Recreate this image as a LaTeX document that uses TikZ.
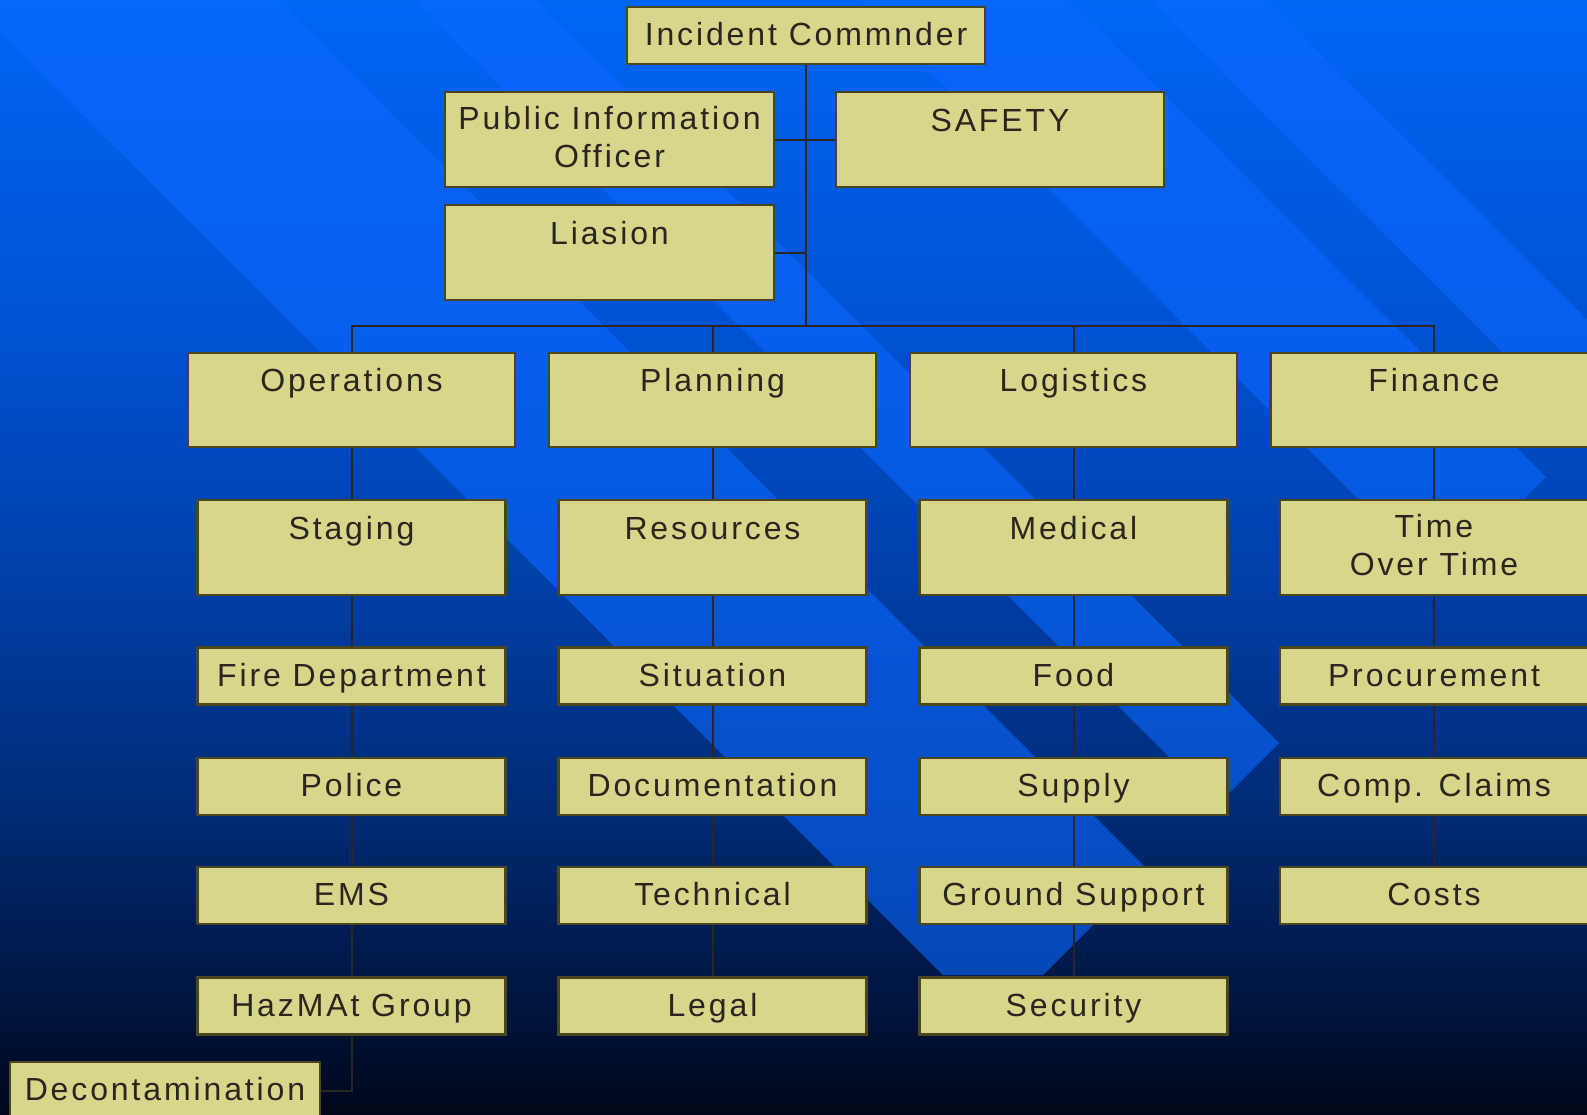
\documentclass[tikz,border=0pt]{standalone}
\usepackage{fontspec}
\setmainfont{Liberation Sans}[LetterSpace=9]
\definecolor{boxfill}{HTML}{D8D68A}
\definecolor{boxline}{HTML}{4A4620}
\definecolor{ink}{HTML}{2B2520}
\definecolor{wirecol}{HTML}{2A2622}
\definecolor{bandblue}{HTML}{0A68FF}
\definecolor{bgA}{HTML}{0066F5}
\definecolor{bgB}{HTML}{0052D2}
\definecolor{bgC}{HTML}{0042AE}
\definecolor{bgD}{HTML}{002C78}
\definecolor{bgE}{HTML}{001540}
\definecolor{bgF}{HTML}{00071A}
\pgfdeclareverticalshading{bgshade}{100bp}{color(0bp)=(bgF); color(25bp)=(bgF); color(30.1bp)=(bgE); color(39.1bp)=(bgD); color(50.3bp)=(bgC); color(60.2bp)=(bgB); color(75bp)=(bgA); color(100bp)=(bgA)}
\newcommand{\twoline}[1]{\begin{tabular}[t]{@{}c@{}}#1\end{tabular}}
\tikzset{
  box/.style={draw=boxline, line width=2.2pt, fill=boxfill, text=ink, inner sep=0pt,
    font=\fontsize{32}{38}\selectfont},
  one/.style={box, text height=23pt, text depth=3pt},
  tall/.style={box, text height=23pt, text depth=40pt},
  twolines/.style={box, text height=23pt, text depth=44pt},
  wide/.style={minimum width=327pt, minimum height=94pt},
  mid/.style={minimum width=308pt, minimum height=95pt},
  small/.style={minimum width=308pt, minimum height=57pt},
  link/.style={draw=wirecol, line width=2pt},
  band/.style={fill=bandblue, fill opacity=0.6}
}
\begin{document}
\begin{tikzpicture}[x=1pt,y=-1pt]
\useasboundingbox (0,0) rectangle (1587,1114);
\clip (0,0) rectangle (1587,1114);
% background
\shade[shading=bgshade] (0,0) rectangle (1587,1114);
\fill[band] (-32,0) -- (278,0) -- (1148,870) -- (1043,975) -- (943,975) -- cycle;
\fill[band] (414,0) -- (536,0) -- (1279,743) -- (1217,805) -- cycle;
\fill[band] (859,0) -- (1069,0) -- (1546,477) -- (1441,582) -- cycle;
\fill[band] (1150,0) -- (1267,0) -- (1720,453) -- (1603,453) -- cycle;

% top level
\node[one, minimum width=358pt, minimum height=57pt] (ic) at (806,35.5) {Incident Commnder};
\node[twolines, minimum width=329pt, minimum height=95pt] (pio) at (609.5,139.5) {\twoline{Public Information\\Officer}};
\node[tall, minimum width=328pt, minimum height=95pt] (safety) at (1000,139.5) {SAFETY};
\node[tall, minimum width=329pt, minimum height=95pt] (lia) at (609.5,252.5) {Liasion};
\coordinate (bus) at (806,326);

% sections
\node[tall, wide] (ops) at (351.5,400) {Operations};
\node[tall, wide] (pla) at (712.5,400) {Planning};
\node[tall, wide] (log) at (1073.5,400) {Logistics};
\node[tall, wide] (fin) at (1434,400) {Finance};

% row 2
\node[tall, mid] (sta) at (351.5,547.5) {Staging};
\node[tall, mid] (res) at (712.5,547.5) {Resources};
\node[tall, mid] (med) at (1073.5,547.5) {Medical};
\node[twolines, mid] (tim) at (1434,547.5) {\twoline{Time\\Over Time}};

% row 3
\node[one, small] (fire) at (351.5,676) {Fire Department};
\node[one, small] (sit) at (712.5,676) {Situation};
\node[one, small] (food) at (1073.5,676) {Food};
\node[one, small] (proc) at (1434,676) {Procurement};

% row 4
\node[one, small] (pol) at (351.5,786.5) {Police};
\node[one, small] (doc) at (712.5,786.5) {Documentation};
\node[one, small] (sup) at (1073.5,786.5) {Supply};
\node[one, small] (comp) at (1434,786.5) {Comp. Claims};

% row 5
\node[one, small] (ems) at (351.5,895.5) {EMS};
\node[one, small] (tech) at (712.5,895.5) {Technical};
\node[one, small] (gs) at (1073.5,895.5) {Ground Support};
\node[one, small] (cost) at (1434,895.5) {Costs};

% row 6
\node[one, small] (haz) at (351.5,1006) {HazMAt Group};
\node[one, small] (legal) at (712.5,1006) {Legal};
\node[one, small] (sec) at (1073.5,1006) {Security};

% row 7
\node[one, minimum width=310pt, minimum height=57pt] (dec) at (165,1090.5) {Decontamination};

% connectors
\draw[link] (ic.south) -- (bus);
\draw[link] (pio.east) -- (safety.west);
\draw[link] (lia.east) -- (lia.east -| ic.south);
\draw[link] (ops.north) |- (bus) -| (fin.north);
\draw[link] (pla.north) -- (pla.north |- bus);
\draw[link] (log.north) -- (log.north |- bus);
\foreach \a/\b in {ops/sta, sta/fire, fire/pol, pol/ems, ems/haz,
                   pla/res, res/sit, sit/doc, doc/tech, tech/legal,
                   log/med, med/food, food/sup, sup/gs, gs/sec,
                   fin/tim, tim/proc, proc/comp, comp/cost}
  \draw[link] (\a.south) -- (\b.north);
\draw[link] (haz.south) |- (dec.east);
\end{tikzpicture}
\end{document}
